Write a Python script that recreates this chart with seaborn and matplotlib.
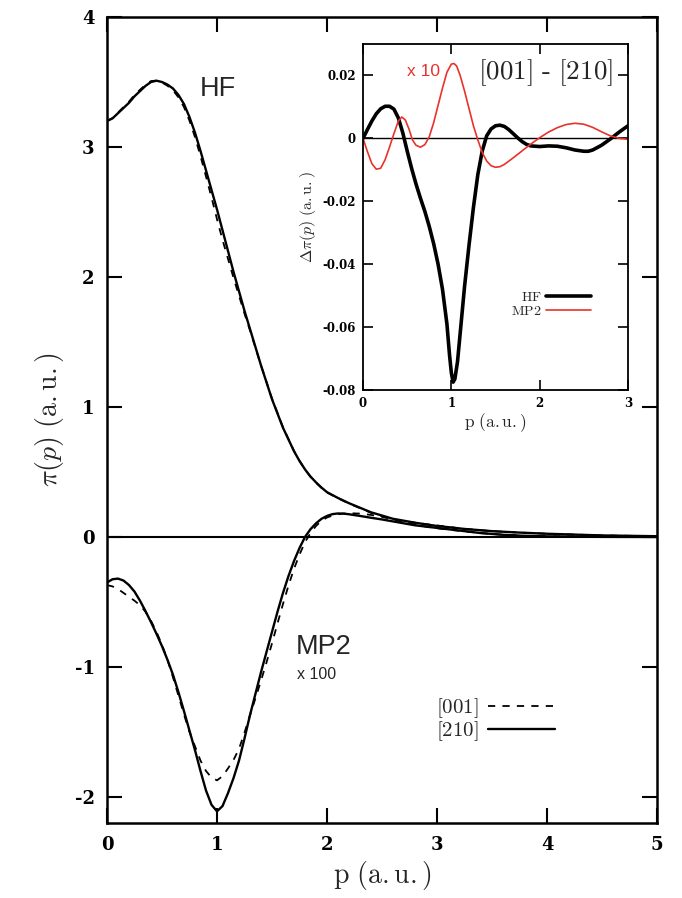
import matplotlib
matplotlib.use("Agg")
import matplotlib.pyplot as plt
import seaborn as sns
import pandas as pd
from matplotlib.ticker import FuncFormatter, FixedLocator

# ---------------- data ----------------
p_hf = [0.00, 0.05, 0.10, 0.15, 0.20, 0.25, 0.30, 0.35, 0.40, 0.45, 0.50,
        0.55, 0.60, 0.65, 0.70, 0.75, 0.80, 0.85, 0.90, 0.95, 1.00, 1.05,
        1.10, 1.15, 1.20, 1.25, 1.30, 1.35, 1.40, 1.45, 1.50, 1.55, 1.60,
        1.65, 1.70, 1.75, 1.80, 1.85, 1.90, 1.95, 2.00, 2.10, 2.20, 2.30,
        2.40, 2.50, 2.60, 2.70, 2.80, 2.90, 3.00, 3.25, 3.50, 3.75, 4.00,
        4.50, 5.00]
hf_210 = [3.20, 3.22, 3.26, 3.30, 3.34, 3.39, 3.43, 3.47, 3.50, 3.51, 3.50,
          3.48, 3.45, 3.40, 3.33, 3.23, 3.11, 2.97, 2.82, 2.67, 2.52, 2.36,
          2.20, 2.04, 1.89, 1.74, 1.60, 1.46, 1.32, 1.19, 1.06, 0.95, 0.84,
          0.75, 0.66, 0.585, 0.52, 0.465, 0.42, 0.38, 0.345, 0.30, 0.26,
          0.225, 0.19, 0.165, 0.14, 0.125, 0.11, 0.097, 0.085, 0.062, 0.045,
          0.034, 0.025, 0.012, 0.006]
hf_001 = [3.20, 3.2225, 3.265, 3.307, 3.349, 3.40, 3.44, 3.479, 3.507, 3.511,
          3.496, 3.471, 3.436, 3.382, 3.307, 3.202, 3.076, 2.93, 2.773, 2.612,
          2.445, 2.286, 2.14, 1.994, 1.856, 1.718, 1.589, 1.455, 1.32, 1.192,
          1.064, 0.954, 0.844, 0.753, 0.662, 0.586, 0.519, 0.463, 0.4175,
          0.3775, 0.3425, 0.298, 0.2575, 0.222, 0.186, 0.161, 0.1365, 0.123,
          0.11, 0.099, 0.089, 0.062, 0.045, 0.034, 0.025, 0.012, 0.006]

p_mp2 = [0.00, 0.05, 0.10, 0.15, 0.20, 0.25, 0.30, 0.35, 0.40, 0.45, 0.50,
         0.55, 0.60, 0.65, 0.70, 0.75, 0.80, 0.85, 0.90, 0.95, 1.00, 1.05,
         1.10, 1.15, 1.20, 1.25, 1.30, 1.35, 1.40, 1.45, 1.50, 1.55, 1.60,
         1.65, 1.70, 1.75, 1.80, 1.85, 1.90, 1.95, 2.00, 2.05, 2.10, 2.15,
         2.20, 2.30, 2.40, 2.50, 2.60, 2.70, 2.80, 2.90, 3.00, 3.20, 3.40,
         3.60, 3.80, 4.00, 4.50, 5.00]
mp2_210 = [-0.35, -0.325, -0.32, -0.335, -0.37, -0.42, -0.49, -0.57, -0.655,
           -0.745, -0.84, -0.945, -1.06, -1.195, -1.34, -1.49, -1.64, -1.80,
           -1.95, -2.06, -2.11, -2.07, -1.97, -1.855, -1.72, -1.55, -1.37,
           -1.205, -1.04, -0.885, -0.73, -0.575, -0.43, -0.30, -0.185, -0.085,
           0.0, 0.06, 0.105, 0.14, 0.162, 0.176, 0.181, 0.18, 0.175, 0.162,
           0.148, 0.135, 0.12, 0.105, 0.09, 0.08, 0.07, 0.05, 0.03, 0.017,
           0.009, 0.005, 0.001, 0.0]
mp2_001 = [-0.37, -0.38, -0.40, -0.43, -0.46, -0.49, -0.525, -0.575, -0.645,
           -0.73, -0.83, -0.945, -1.08, -1.222, -1.365, -1.50, -1.61, -1.72,
           -1.80, -1.85, -1.872, -1.84, -1.78, -1.715, -1.63, -1.505, -1.37,
           -1.24, -1.105, -0.965, -0.818, -0.665, -0.515, -0.373, -0.245,
           -0.135, -0.04, 0.03, 0.085, 0.125, 0.15, 0.165, 0.175, 0.18, 0.183,
           0.18, 0.17, 0.155, 0.135, 0.115, 0.095, 0.08, 0.067, 0.048, 0.03,
           0.017, 0.009, 0.005, 0.001, 0.0]

p_dhf = [0.00, 0.05, 0.10, 0.15, 0.20, 0.25, 0.30, 0.35, 0.40, 0.45, 0.50,
         0.55, 0.60, 0.65, 0.70, 0.75, 0.80, 0.85, 0.90, 0.95, 0.98, 1.00,
         1.02, 1.04, 1.07, 1.10, 1.15, 1.20, 1.25, 1.30, 1.35, 1.40, 1.45,
         1.50, 1.55, 1.60, 1.65, 1.70, 1.75, 1.80, 1.85, 1.90, 2.00, 2.10,
         2.20, 2.30, 2.40, 2.50, 2.55, 2.60, 2.70, 2.80, 2.90, 3.00]
d_hf = [0.0, 0.0028, 0.0055, 0.0078, 0.0094, 0.0102, 0.0102, 0.0093, 0.0065,
        0.0018, -0.0040, -0.0095, -0.0145, -0.0190, -0.0232, -0.0280,
        -0.0335, -0.0400, -0.0480, -0.0590, -0.0690, -0.0745, -0.0775,
        -0.0765, -0.0710, -0.0620, -0.0470, -0.0340, -0.0220, -0.0115,
        -0.0040, 0.0008, 0.0030, 0.0040, 0.0042, 0.0038, 0.0028, 0.0015,
        0.0002, -0.0010, -0.0019, -0.0024, -0.0026, -0.0024, -0.0025,
        -0.0030, -0.0037, -0.0041, -0.0041, -0.0037, -0.0022, -0.0002,
        0.0020, 0.0040]

p_dmp2 = [0.00, 0.05, 0.10, 0.15, 0.20, 0.25, 0.30, 0.35, 0.40, 0.44, 0.48,
          0.52, 0.56, 0.60, 0.65, 0.70, 0.75, 0.80, 0.85, 0.90, 0.95, 1.00,
          1.03, 1.06, 1.10, 1.15, 1.20, 1.25, 1.30, 1.35, 1.40, 1.45, 1.50,
          1.55, 1.60, 1.70, 1.80, 1.90, 2.00, 2.10, 2.20, 2.30, 2.40, 2.50,
          2.60, 2.70, 2.80, 2.90, 3.00]
d_mp2_x10 = [0.0, -0.0042, -0.0080, -0.0098, -0.0095, -0.0068, -0.0028,
             0.0015, 0.0055, 0.0068, 0.0058, 0.0030, -0.0005, -0.0022,
             -0.0028, -0.0020, 0.0005, 0.0050, 0.0105, 0.0160, 0.0210,
             0.0236, 0.0238, 0.0230, 0.0200, 0.0150, 0.0095, 0.0040, -0.0005,
             -0.0045, -0.0072, -0.0087, -0.0092, -0.0090, -0.0083, -0.0062,
             -0.0040, -0.0018, 0.0002, 0.0020, 0.0034, 0.0044, 0.0048, 0.0045,
             0.0035, 0.0021, 0.0008, 0.0, -0.0003]

main_xticks = [0, 1, 2, 3, 4, 5]
main_yticks = [-2, -1, 0, 1, 2, 3, 4]
inset_xticks = [0, 1, 2, 3]
inset_yticks = [-0.08, -0.06, -0.04, -0.02, 0, 0.02]

# ---------------- style ----------------
sns.set_theme(style="ticks")
plt.rcParams["mathtext.fontset"] = "cm"
plt.rcParams["font.family"] = ["DejaVu Serif"]

fig = plt.figure(figsize=(6.82, 8.98), dpi=100)
ax = fig.add_axes([107/682, 1 - 823/898, 550/682, 806/898])

dash = (0, (4, 4))
sns.lineplot(data=pd.DataFrame({"p": p_hf, "v": hf_001}), x="p", y="v", ax=ax,
             color="black", lw=1.3, linestyle=dash, sort=False,
             estimator=None, label=r"$\mathrm{[001]}$")
sns.lineplot(data=pd.DataFrame({"p": p_hf, "v": hf_210}), x="p", y="v", ax=ax,
             color="black", lw=1.7, sort=False, estimator=None,
             label=r"$\mathrm{[210]}$")
sns.lineplot(data=pd.DataFrame({"p": p_mp2, "v": mp2_001}), x="p", y="v",
             ax=ax, color="black", lw=1.3, linestyle=dash, sort=False,
             estimator=None)
sns.lineplot(data=pd.DataFrame({"p": p_mp2, "v": mp2_210}), x="p", y="v",
             ax=ax, color="black", lw=1.7, sort=False, estimator=None)
ax.axhline(0, color="black", lw=1.5, zorder=1)

ax.set_xlim(0, 5)
ax.set_ylim(-2.2, 4)
ax.xaxis.set_major_locator(FixedLocator(main_xticks))
ax.yaxis.set_major_locator(FixedLocator(main_yticks))
ax.xaxis.set_major_formatter(FuncFormatter(lambda v, pos: "%g" % v))
ax.yaxis.set_major_formatter(FuncFormatter(lambda v, pos: "%g" % v))
ax.tick_params(direction="in", length=11, width=1.5, top=True, right=True,
               labelsize=13, colors="black", pad=9)
for lab in ax.get_xticklabels() + ax.get_yticklabels():
    lab.set_fontweight("bold")
for s in ax.spines.values():
    s.set_linewidth(1.8)
    s.set_color("black")
ax.set_xlabel(r"$\mathrm{p\ (a.u.)}$", fontsize=20, labelpad=4)
ax.set_ylabel(r"$\pi(p)\ \mathrm{(a.u.)}$", fontsize=20, labelpad=6)

ax.text(0.845, 3.45, "HF", fontsize=19.5, family="Liberation Sans",
        ha="left", va="center")
ax.text(1.72, -0.85, "MP2", fontsize=19.5, family="Liberation Sans",
        ha="left", va="center")
ax.text(1.73, -1.06, "x 100", fontsize=11.5, family="Liberation Sans",
        ha="left", va="center")

ax.legend(loc="upper left", bbox_to_anchor=(0.58, 0.17), frameon=False,
          markerfirst=False, fontsize=15, handlelength=3.2,
          handletextpad=0.45, labelspacing=-0.05, borderpad=0)

# ---------------- inset ----------------
ins = fig.add_axes([363/682, 1 - 390/898, 265/682, 346/898])
sns.lineplot(data=pd.DataFrame({"p": p_dhf, "v": d_hf}), x="p", y="v", ax=ins,
             color="black", lw=2.6, sort=False, estimator=None,
             label=r"$\mathrm{HF}$")
sns.lineplot(data=pd.DataFrame({"p": p_dmp2, "v": d_mp2_x10}), x="p", y="v",
             ax=ins, color="#e8322b", lw=1.2, sort=False, estimator=None,
             label=r"$\mathrm{MP2}$")
ins.axhline(0, color="black", lw=1.0, zorder=1)
ins.set_xlim(0, 3)
ins.set_ylim(-0.08, 0.03)
ins.xaxis.set_major_locator(FixedLocator(inset_xticks))
ins.yaxis.set_major_locator(FixedLocator(inset_yticks))
ins.xaxis.set_major_formatter(FuncFormatter(lambda v, pos: "%g" % v))
ins.yaxis.set_major_formatter(FuncFormatter(lambda v, pos: "%g" % v))
ins.tick_params(direction="in", length=7, width=1.2, top=True, right=True,
                labelsize=8.5, colors="black", pad=5)
for lab in ins.get_xticklabels() + ins.get_yticklabels():
    lab.set_fontweight("bold")
for s in ins.spines.values():
    s.set_linewidth(1.3)
    s.set_color("black")
ins.set_xlabel(r"$\mathrm{p\ (a.u.)}$", fontsize=12.5, labelpad=1)
ins.set_ylabel(r"$\Delta\pi(p)\ \mathrm{(a.u.)}$", fontsize=11.5, labelpad=3)
ins.text(0.50, 0.0213, "x 10", color="#e8322b", fontsize=12.5,
         family="Liberation Sans", ha="left", va="center")
ins.text(2.83, 0.021, r"$\mathrm{[001]\ \text{-}\ [210]}$", fontsize=19.5,
         ha="right", va="center")
ins.legend(loc="upper right", bbox_to_anchor=(0.885, 0.31), frameon=False,
           markerfirst=False, fontsize=10, handlelength=3.2,
           handletextpad=0.3, labelspacing=0.0, borderpad=0)

fig.savefig("out.png", dpi=100)
